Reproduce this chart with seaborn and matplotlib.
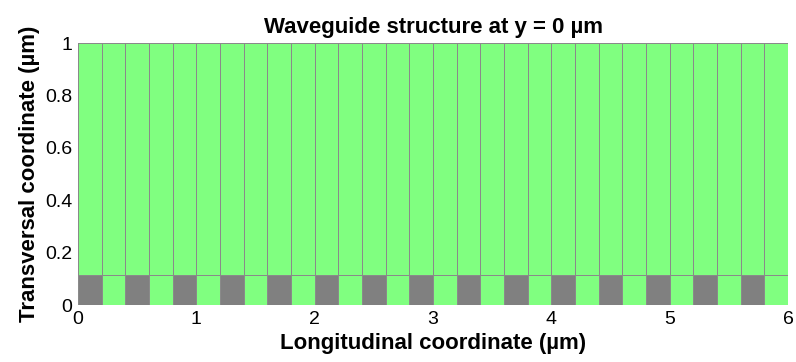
import numpy as np
import matplotlib
matplotlib.use("Agg")
import matplotlib.pyplot as plt
from matplotlib.colors import ListedColormap
import seaborn as sns

# Data
x_edges = [round(0.2 * i, 1) for i in range(31)]          # longitudinal cell edges (µm)
y_edges = [0.0, 0.115, 1.0]                               # transversal layer edges (µm)
bottom_layer = [1, 0] * 15                                # 1 = grey (grating), 0 = green
top_layer = [0] * 30
x_ticks = [0, 1, 2, 3, 4, 5, 6]
y_ticks = [0, 0.2, 0.4, 0.6, 0.8, 1]
y_tick_labels = ["0", "0.2", "0.4", "0.6", "0.8", "1"]

sns.set_theme(style="white")
plt.rcParams['font.family'] = ['Liberation Sans', 'DejaVu Sans']
plt.rcParams['text.color'] = 'black'
plt.rcParams['axes.labelcolor'] = 'black'

fig = plt.figure(figsize=(7.96, 3.62), dpi=100)
ax = fig.add_axes([0.098, 0.157, 0.892, 0.724])

C = np.array([bottom_layer, top_layer])
cmap = ListedColormap(["#80FF80", "#808080"])
ax.pcolormesh(x_edges, y_edges, C, cmap=cmap, vmin=0, vmax=1,
              edgecolor="#8a8a8a", linewidth=0.6)

ax.set_xlim(0, 6)
ax.set_ylim(0, 1)
ax.set_xticks(x_ticks)
ax.set_xticklabels([str(t) for t in x_ticks])
ax.set_yticks(y_ticks)
ax.set_yticklabels(y_tick_labels)
ax.tick_params(axis="both", length=0, labelsize=14, colors="black", pad=4)
for s in ax.spines.values():
    s.set_visible(False)

ax.set_title("Waveguide structure at y = 0 µm", fontsize=16, fontweight="bold", pad=7, color="black")
ax.set_xlabel("Longitudinal coordinate (µm)", fontsize=16, fontweight="bold", labelpad=4)
ax.set_ylabel("Transversal coordinate (µm)", fontsize=16, fontweight="bold", labelpad=4)

fig.savefig("out.png", dpi=100, facecolor="white")
